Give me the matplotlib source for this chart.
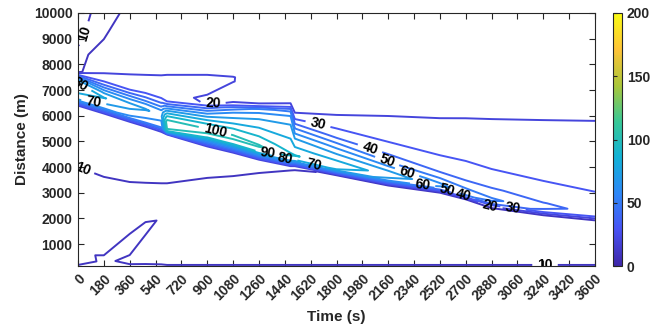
import numpy as np
import matplotlib
matplotlib.use('Agg')
import matplotlib.pyplot as plt
from matplotlib.colors import LinearSegmentedColormap, Normalize
from matplotlib.cm import ScalarMappable

plt.rcParams['font.family'] = 'Liberation Sans'
plt.rcParams['font.weight'] = 'bold'
plt.rcParams['axes.labelweight'] = 'bold'

# MATLAB parula, from its 8 anchor colours
parula = LinearSegmentedColormap.from_list('parula', [
    (0.2422, 0.1504, 0.6603), (0.2810, 0.3228, 0.9579),
    (0.1786, 0.5289, 0.9682), (0.0689, 0.6948, 0.8394),
    (0.2161, 0.7843, 0.5923), (0.6720, 0.7793, 0.2227),
    (0.9970, 0.7659, 0.2199), (0.9769, 0.9839, 0.0805)])

# density (veh/km).  For every time column: the
# distances of 21 sample points (d_...) and the density there (v_...).
# Point k follows the same feature from column to column (bottom,
# small wave, upstream front, jam core, fan, top boundary, ...).
times = [0, 180, 360, 470, 580, 620, 900, 1080, 1260, 1480, 1510,
         1800, 2160, 2520, 2700, 2880, 3240, 3600]

d_0000 = [150, 400, 800, 1200, 3900, 4100, 6350, 6650, 7050, 7300, 7450,
          7540, 7580, 7600, 7620, 7635, 7650, 7700, 8300, 8800, 10000]
v_0000 = [10.2, 9, 9, 9, 9, 11, 11, 72, 86, 79.5, 62,
          45, 33, 28, 27, 26, 24, 9, 9, 10.2, 11]
d_0180 = [150, 300, 450, 800, 3520, 3720, 6040, 6300, 6700, 6900, 7050,
          7200, 7330, 7420, 7480, 7520, 7580, 7750, 8500, 9300, 10000]
v_0180 = [10.2, 10.4, 10.5, 9, 9, 11, 11, 62, 80.5, 69, 55,
          40.5, 30.2, 28, 27, 26, 24, 15, 11.5, 9, 9]
d_0360 = [150, 400, 1000, 1600, 3320, 3520, 5720, 5950, 6400, 6600, 6750,
          6880, 7000, 7150, 7300, 7400, 7500, 7750, 8500, 9300, 10000]
v_0360 = [10.2, 9.5, 11.2, 9.4, 9, 11, 11, 58, 75, 64, 52,
          40.5, 30.3, 27.5, 26.5, 25.5, 24, 15, 15, 14, 10.6]
d_0470 = [150, 1000, 1620, 2200, 3290, 3490, 5530, 5760, 6250, 6450, 6600,
          6750, 6870, 7050, 7200, 7330, 7480, 7750, 8500, 9300, 10000]
v_0470 = [10.1, 9, 10.7, 9, 9, 11, 11, 55, 71, 61, 48,
          38, 30.3, 27, 26, 25, 23.5, 15, 15, 15, 15]
d_0580 = [150, 1500, 2050, 2600, 3270, 3470, 5320, 5550, 6000, 6200, 6380,
          6530, 6680, 6850, 7000, 7200, 7450, 7750, 8500, 9300, 10000]
v_0580 = [10.05, 9, 9.7, 9, 9, 11, 11, 50.5, 67, 61, 48,
          38, 30.2, 26.5, 25.5, 24.5, 23.5, 15, 15, 15, 15]
d_0620 = [150, 400, 700, 1000, 3270, 3470, 5250, 5420, 5720, 5950, 6150,
          6300, 6450, 6580, 6800, 7100, 7450, 7750, 8500, 9300, 10000]
v_0620 = [10.2, 9, 9, 9, 9, 11, 11, 98, 107, 93, 75,
          58, 40.5, 28, 26, 25.5, 24.5, 15, 15, 15, 15]
d_0900 = [150, 400, 700, 1000, 3480, 3680, 4760, 5150, 5380, 5600, 5900,
          6150, 6350, 6520, 6650, 7100, 7450, 7750, 8500, 9300, 10000]
v_0900 = [10.2, 9, 9, 9, 9, 11, 11, 89.5, 104, 96, 75,
          54, 34, 18.5, 17, 25, 24.5, 15, 15, 15, 15]
d_1080 = [150, 400, 700, 1000, 3550, 3750, 4520, 4900, 5150, 5400, 5800,
          6100, 6300, 6470, 6800, 7350, 7500, 7750, 8500, 9300, 10000]
v_1080 = [10.2, 9, 9, 9, 9, 11, 11, 90.5, 103, 95, 75,
          61.5, 45, 21, 16, 20.3, 20.4, 15, 15, 15, 15]
d_1260 = [150, 400, 700, 1000, 3670, 3870, 4250, 4600, 4820, 5100, 5600,
          6000, 6250, 6420, 6600, 7100, 7450, 7750, 8500, 9300, 10000]
v_1260 = [10.2, 9, 9, 9, 9, 11, 11, 91, 101.5, 93, 78,
          66, 52, 22, 16, 15.5, 15.2, 15, 15, 15, 15]
d_1480 = [150, 400, 700, 1000, 3770, 3970, 4000, 4300, 4480, 4700, 5400,
          5900, 6200, 6400, 6600, 7100, 7450, 7750, 8500, 9300, 10000]
v_1480 = [10.2, 9, 9, 9, 9, 11, 11, 82, 91.5, 87, 75,
          65, 48, 23, 16, 15.5, 15.2, 15, 15, 15, 15]
d_1510 = [150, 400, 700, 1000, 3780, 3980, 4000, 4290, 4450, 4650, 5100,
          5500, 5850, 6050, 6300, 7100, 7450, 7750, 8500, 9300, 10000]
v_1510 = [10.2, 9, 9, 9, 9, 11, 11, 82, 90.6, 84, 70.5,
          50.3, 31, 21.5, 16, 15.5, 15.2, 15, 15, 15, 15]
d_1800 = [150, 400, 700, 1000, 3400, 3640, 3680, 3900, 4100, 4400, 4800,
          5200, 5550, 5950, 6250, 7100, 7450, 7750, 8500, 9300, 10000]
v_1800 = [10.2, 9, 9, 9, 9, 9, 9, 79.5, 85.5, 75, 57,
          37, 29, 21.5, 16, 15.5, 15.2, 15, 15, 15, 15]
d_2160 = [150, 400, 700, 1000, 2800, 3000, 3280, 3500, 3720, 3900, 4200,
          4550, 5000, 5900, 6200, 7100, 7450, 7750, 8500, 9300, 10000]
v_2160 = [10.2, 9, 9, 9, 9, 9, 9, 66, 76.5, 68, 50.5,
          38.5, 29.7, 21.5, 16.5, 15.5, 15.2, 15, 15, 15, 15]
d_2520 = [150, 400, 700, 1000, 2500, 2750, 3000, 3200, 3320, 3450, 3700,
          4000, 4500, 5800, 6150, 7100, 7450, 7750, 8500, 9300, 10000]
v_2520 = [10.2, 9, 9, 9, 9, 9, 9, 58, 62.5, 57, 43,
          35, 29.6, 21.5, 16.5, 15.5, 15.2, 15, 15, 15, 15]
d_2700 = [150, 400, 700, 1000, 2250, 2500, 2740, 2920, 3020, 3150, 3400,
          3700, 4250, 5800, 6100, 7100, 7450, 7750, 8500, 9300, 10000]
v_2700 = [10.2, 9, 9, 9, 9, 9, 9, 52, 56, 51, 42,
          35, 29.9, 21.8, 16.5, 15.5, 15.2, 15, 15, 15, 15]
d_2880 = [150, 400, 700, 1000, 2000, 2200, 2400, 2600, 2740, 2880, 3150,
          3450, 3950, 5750, 6050, 7100, 7450, 7750, 8500, 9300, 10000]
v_2880 = [10.2, 9, 9, 9, 9, 9, 9, 46, 52.3, 47, 41,
          34, 29.8, 22, 17, 15.5, 15.2, 15, 15, 15, 15]
d_3240 = [150, 400, 700, 1000, 1500, 1750, 2120, 2300, 2450, 2600, 2850,
          3100, 3500, 5700, 6000, 7100, 7450, 7750, 8500, 9300, 10000]
v_3240 = [10.2, 9, 9, 9, 9, 9, 9, 38, 42.2, 40.3, 36.5,
          33, 29.7, 22.3, 17, 15.5, 15.2, 15, 15, 15, 15]
d_3600 = [150, 400, 700, 1000, 1300, 1600, 1920, 2100, 2300, 2500, 2750,
          2950, 3500, 5700, 6000, 7100, 7450, 7750, 8500, 9300, 10000]
v_3600 = [10.2, 9, 9, 9, 9, 9, 9, 33, 37.5, 36, 33,
          30.5, 27.5, 21.5, 17, 15.5, 15.2, 15, 15, 15, 15]

levels = [10, 20, 30, 40, 50, 60, 70, 80, 90, 100]

Y = np.column_stack([d_0000, d_0180, d_0360, d_0470, d_0580, d_0620,
                     d_0900, d_1080, d_1260, d_1480, d_1510, d_1800,
                     d_2160, d_2520, d_2700, d_2880, d_3240, d_3600])
Z = np.column_stack([v_0000, v_0180, v_0360, v_0470, v_0580, v_0620,
                     v_0900, v_1080, v_1260, v_1480, v_1510, v_1800,
                     v_2160, v_2520, v_2700, v_2880, v_3240, v_3600])
X = np.tile(np.array(times, dtype=float), (Y.shape[0], 1))

# where the contour labels sit (as in the picture)
label_pos = [(48, 9200), (20, 7270), (110, 6540), (30, 3937),
             (940, 6505), (950, 5340), (1323, 4555), (1440, 4339),
             (1671, 5668), (1640, 4074), (2033, 4730), (2152, 4225),
             (2291, 3798), (2400, 3328), (2569, 3098), (2681, 2897),
             (2869, 2477), (3029, 2402), (3252, 195)]

ink = '#262626'
norm = Normalize(0, 200)

fig = plt.figure(figsize=(6.62, 3.33), dpi=100)
ax = fig.add_axes([78/662, 1-266/333, 517/662, 253/333])

cs = ax.contour(X, Y, Z, levels=levels, cmap=parula, norm=norm,
                linewidths=1.4)
lbls = ax.clabel(cs, manual=label_pos, inline=True, fontsize=10,
                 fmt='%1.0f', colors='k')
for t in lbls:
    t.set_fontweight('bold')

ax.set_xlim(0, 3600)
ax.set_ylim(150, 10000)
ax.set_xticks(range(0, 3601, 180))
ax.set_xticklabels([str(v) for v in range(0, 3601, 180)], rotation=45,
                   ha='right', va='top', rotation_mode='anchor')
ax.set_yticks(range(1000, 10001, 1000))
ax.tick_params(direction='in', top=True, right=True, length=4, width=0.8,
               colors=ink, labelsize=10, pad=4)
for sp in ax.spines.values():
    sp.set_color(ink)
    sp.set_linewidth(0.8)

ax.set_xlabel('Time (s)', fontsize=11, color=ink)
ax.set_ylabel('Distance (m)', fontsize=11, color=ink)
ax.xaxis.set_label_coords(0.5, -0.175)
ax.yaxis.set_label_coords(-0.095, 0.5)

cax = fig.add_axes([613/662, 1-266/333, 9/662, 253/333])
cb = fig.colorbar(ScalarMappable(norm=norm, cmap=parula), cax=cax,
                  ticks=[0, 50, 100, 150, 200])
cax.tick_params(direction='in', length=3, width=0.8, colors=ink,
                labelsize=10, left=True, right=False)
cb.outline.set_edgecolor(ink)
cb.outline.set_linewidth(0.8)

fig.savefig('out.png', dpi=100)
